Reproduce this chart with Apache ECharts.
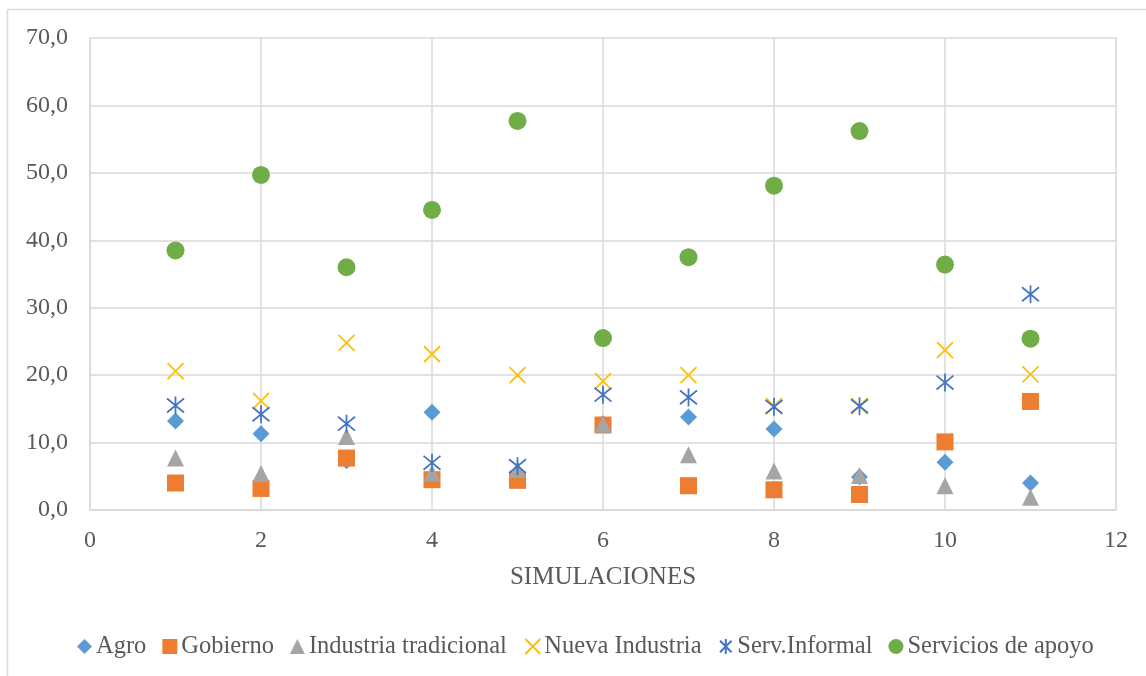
<!DOCTYPE html>
<html>
<head>
<meta charset="utf-8">
<script src="https://cdn.jsdelivr.net/npm/echarts@6/dist/echarts.min.js"></script>
<style>
html,body{margin:0;padding:0;background:#fff;}
#main{width:1146px;height:676px;}
</style>
</head>
<body>
<div id="main"></div>
<script>
var simulaciones = [1,2,3,4,5,6,7,8,9,10,11];
var agro        = [13.2, 11.3, 7.3, 14.5, 5.0, 12.8, 13.8, 12.0, 4.9, 7.1, 4.0];
var gobierno    = [4.0, 3.2, 7.7, 4.5, 4.4, 12.6, 3.6, 3.0, 2.3, 10.1, 16.1];
var industria   = [7.7, 5.4, 10.9, 5.5, 6.0, 12.7, 8.2, 5.8, 5.1, 3.6, 1.9];
var nueva       = [20.6, 16.2, 24.8, 23.1, 20.0, 19.1, 20.0, 15.4, 15.4, 23.7, 20.1];
var servInf     = [15.5, 14.2, 12.8, 7.0, 6.5, 17.1, 16.7, 15.3, 15.4, 18.9, 32.0];
var servApoyo   = [38.5, 49.7, 36.0, 44.5, 57.7, 25.5, 37.5, 48.1, 56.2, 36.4, 25.4];
var seriesNames = ['Agro','Gobierno','Industria tradicional','Nueva Industria','Serv.Informal','Servicios de apoyo'];

function pts(arr){ return simulaciones.map(function(x,i){ return [x, arr[i]]; }); }

var FONT = 'Liberation Serif';
var TXT = '#595959';
var GRID = '#D9D9D9';

var chart = echarts.init(document.getElementById('main'));
var xPath = 'path://M0,0L10,10M10,0L0,10';
var starPath = 'path://M0,0L10,10M10,0L0,10M5,-1.5L5,11.5';

chart.setOption({
  animation:false,
  backgroundColor:'#fff',
  grid:{left:90,right:30,top:38,bottom:166,containLabel:false},
  xAxis:{
    type:'value',min:0,max:12,interval:2,
    name:'SIMULACIONES',nameLocation:'middle',nameGap:55,
    nameTextStyle:{fontFamily:FONT,fontSize:25,color:TXT},
    axisLine:{show:true,lineStyle:{color:GRID,width:1.5}},
    axisTick:{show:false},
    axisLabel:{fontFamily:FONT,fontSize:24,color:TXT,margin:19},
    splitLine:{show:true,lineStyle:{color:GRID,width:1.5}}
  },
  yAxis:{
    type:'value',min:0,max:70,interval:10,
    axisLine:{show:true,lineStyle:{color:GRID,width:1.5}},
    axisTick:{show:false},
    axisLabel:{fontFamily:FONT,fontSize:24,color:TXT,margin:22,
      formatter:function(v){return v.toFixed(1).replace('.',',');}},
    splitLine:{show:true,lineStyle:{color:GRID,width:1.5}}
  },
  legend:{
    bottom:12,left:72,
    itemWidth:15,itemHeight:15,itemGap:16,
    textStyle:{fontFamily:FONT,fontSize:24.5,color:TXT,padding:[0,0,0,-1]},
    data:seriesNames
  },
  graphic:[
    {type:'line',shape:{x1:7.5,y1:9.5,x2:1146,y2:9.5},style:{stroke:GRID,lineWidth:1.5},silent:true},
    {type:'line',shape:{x1:7.5,y1:9.5,x2:7.5,y2:676},style:{stroke:GRID,lineWidth:1.5},silent:true}
  ],
  series:[
    {name:seriesNames[0],type:'scatter',symbol:'diamond',symbolSize:17,data:pts(agro),itemStyle:{color:'#5B9BD5',opacity:1}},
    {name:seriesNames[1],type:'scatter',symbol:'rect',symbolSize:17,data:pts(gobierno),itemStyle:{color:'#ED7D31',opacity:1}},
    {name:seriesNames[2],type:'scatter',symbol:'triangle',symbolSize:17,data:pts(industria),itemStyle:{color:'#A5A5A5',opacity:1}},
    {name:seriesNames[3],type:'scatter',symbol:xPath,symbolSize:16,data:pts(nueva),itemStyle:{color:'none',borderColor:'#FFC000',borderWidth:1.8,opacity:1}},
    {name:seriesNames[4],type:'scatter',symbol:starPath,symbolSize:[17,18],data:pts(servInf),itemStyle:{color:'none',borderColor:'#4472C4',borderWidth:1.8,opacity:1}},
    {name:seriesNames[5],type:'scatter',symbol:'circle',symbolSize:18,data:pts(servApoyo),itemStyle:{color:'#70AD47',opacity:1}}
  ]
});
</script>
</body>
</html>
